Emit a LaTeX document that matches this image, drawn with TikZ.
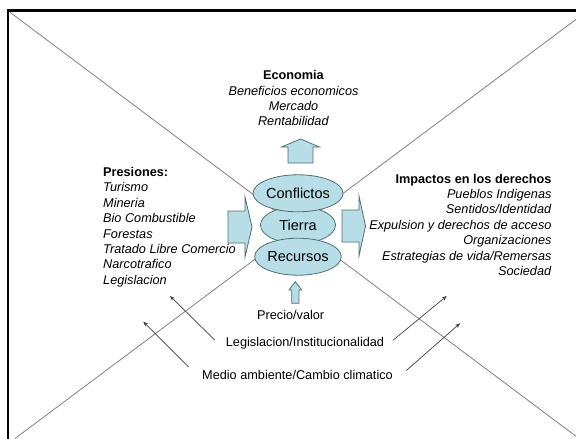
\documentclass[tikz,border=0pt]{standalone}
\usepackage{fontspec}
\setmainfont{Liberation Sans}
\usetikzlibrary{%
        arrows.meta,
        shapes.geometric
    }
\definecolor{tierra}{RGB}{183, 221, 230}
\definecolor{tierraline}{RGB}{80, 110, 118}
\tikzset{%
    txt/.style={inner sep=0pt, font=\fontsize{12.7}{15.4}\selectfont},
    blob/.style={%
        ellipse,
        draw=tierraline,
        fill=tierra,
        line width=0.8pt,
        minimum width=75pt,
        minimum height=37pt,
        inner sep=0pt,
        font=\fontsize{14.5}{17}\selectfont
    },
    blockarrow/.style={draw=tierraline, fill=tierra, line width=0.8pt},
    pointer/.style={-{Stealth[length=5pt, width=4pt]}, draw=black!75, line width=0.7pt},
    diag/.style={draw=black!50, line width=0.8pt}
}

\begin{document}
\begin{tikzpicture}[x=1pt, y=-1pt]

    \useasboundingbox (0, 0) rectangle (576, 439);

    % Frame and diagonals
    \draw[line width=2.5pt] (8, 441) |- (578, 10.5);
    \draw[diag] (10, 12.3) -- (576, 436.3);
    \draw[diag] (15, 438.5) -- (576, 19.4);

    % Economia
    \node[txt, anchor=north, align=center] (eco) at (293.5, 70.3)
        {\textbf{Economia}\\ \textit{Beneficios economicos}\\ \textit{Mercado}\\ \textit{Rentabilidad}};

    % Tierra in the middle
    \node[blob] (tierra) at (298, 225) {Tierra};
    \node[blob] (conf) at (298, 193.3) {Conflictos};
    \node[blob] (recur) at (298, 256.7) {Recursos};

    % Block arrows
    \draw[blockarrow] (288, 163) -- (288, 147) -- (281.5, 147) -- (300.5, 139)
        -- (319.5, 147) -- (313, 147) -- (313, 163) -- cycle;
    \draw[blockarrow] (228, 211) -- (245, 211) -- (245, 197) -- (252, 227)
        -- (245, 257) -- (245, 243) -- (228, 243) -- cycle;
    \draw[blockarrow] (342, 210) -- (359, 210) -- (359, 196) -- (365.5, 226)
        -- (359, 256) -- (359, 242) -- (342, 242) -- cycle;
    \draw[blockarrow] (291.7, 303.3) -- (291.7, 290) -- (289, 290) -- (295.3, 281.7)
        -- (301.7, 290) -- (299, 290) -- (299, 303.3) -- cycle;

    % Presiones
    \node[txt, anchor=north west, align=left] (pres) at (103, 167)
        {\textbf{Presiones:}\\ \textit{Turismo}\\ \textit{Mineria}\\ \textit{Bio Combustible}\\
         \textit{Forestas}\\ \textit{Tratado Libre Comercio}\\ \textit{Narcotrafico}\\ \textit{Legislacion}};

    % Impactos
    \node[txt, anchor=north east, align=right] (imp) at (551.7, 173.6)
        {\textbf{Impactos en los derechos}\\ \textit{Pueblos Indigenas}\\ \textit{Sentidos/Identidad}\\
         \textit{Expulsion y derechos de acceso}\\ \textit{Organizaciones}\\
         \textit{Estrategias de vida/Remersas}\\ \textit{Sociedad}};

    % Bottom labels
    \node[txt, anchor=base] (precio) at (290.7, 319.6) {Precio/valor};
    \node[txt, anchor=base] (legis) at (305, 346.3) {Legislacion/Institucionalidad};
    \node[txt, anchor=base] (medio) at (297.5, 379) {Medio ambiente/Cambio climatico};

    % Pointers
    \coordinate (legtipl) at (170, 296);
    \coordinate (legtipr) at (446.7, 296);
    \coordinate (medtipl) at (143.3, 321.7);
    \coordinate (medtipr) at (460, 323.3);

    \draw[pointer] ([xshift=-11pt, yshift=3pt] legis.west) -- (legtipl);
    \draw[pointer] ([xshift=9pt, yshift=3pt] legis.east) -- (legtipr);
    \draw[pointer] ([xshift=-13.4pt, yshift=7.4pt] medio.west) -- (medtipl);
    \draw[pointer] ([xshift=13.4pt, yshift=4pt] medio.east) -- (medtipr);

\end{tikzpicture}
\end{document}
